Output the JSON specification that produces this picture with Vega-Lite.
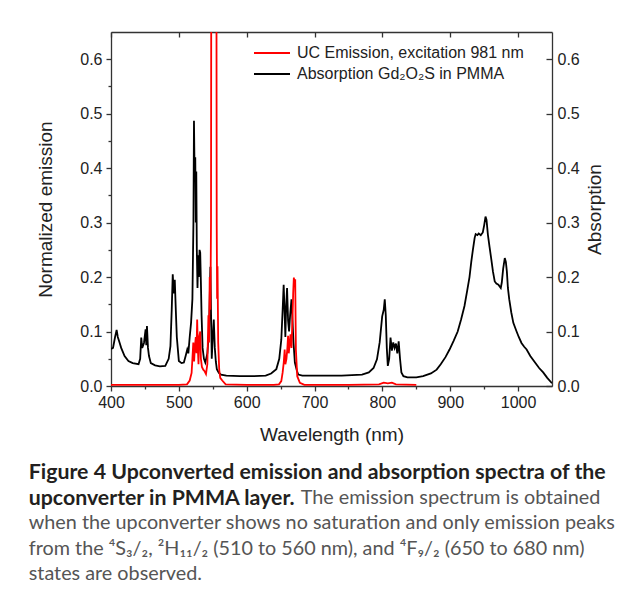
{
  "$schema": "https://vega.github.io/schema/vega-lite/v6.json",
  "width": 441,
  "height": 354,
  "autosize": {"type": "none"},
  "padding": {"left": 111, "top": 32, "right": 70, "bottom": 210},
  "background": "#ffffff",
  "datasets": {
    "absorption": [
      {"w": 400, "v": 0.068}, {"w": 403, "v": 0.07}, {"w": 406, "v": 0.09}, {"w": 408.3, "v": 0.103}, {"w": 410, "v": 0.09},
      {"w": 412, "v": 0.082}, {"w": 415, "v": 0.07}, {"w": 420, "v": 0.055}, {"w": 425.7, "v": 0.046}, {"w": 432, "v": 0.042},
      {"w": 440.6, "v": 0.04}, {"w": 443, "v": 0.05}, {"w": 444.6, "v": 0.089}, {"w": 446, "v": 0.07}, {"w": 448.6, "v": 0.079},
      {"w": 451, "v": 0.104}, {"w": 452, "v": 0.075}, {"w": 453, "v": 0.11}, {"w": 454.5, "v": 0.07}, {"w": 456, "v": 0.055},
      {"w": 458.7, "v": 0.042}, {"w": 465, "v": 0.038}, {"w": 472, "v": 0.036}, {"w": 480, "v": 0.037}, {"w": 485, "v": 0.05},
      {"w": 487.6, "v": 0.073}, {"w": 489.5, "v": 0.14}, {"w": 491, "v": 0.205}, {"w": 492.5, "v": 0.17}, {"w": 494, "v": 0.195},
      {"w": 495.5, "v": 0.14}, {"w": 497, "v": 0.09}, {"w": 500, "v": 0.046}, {"w": 504, "v": 0.042}, {"w": 507.4, "v": 0.043},
      {"w": 510, "v": 0.055}, {"w": 512.4, "v": 0.067}, {"w": 514, "v": 0.06}, {"w": 516, "v": 0.09}, {"w": 518, "v": 0.116},
      {"w": 520, "v": 0.16}, {"w": 521.5, "v": 0.3}, {"w": 522.3, "v": 0.487}, {"w": 523.3, "v": 0.38}, {"w": 524.2, "v": 0.42},
      {"w": 525, "v": 0.3}, {"w": 525.7, "v": 0.394}, {"w": 526.5, "v": 0.25}, {"w": 527.5, "v": 0.18}, {"w": 528.5, "v": 0.24},
      {"w": 529.5, "v": 0.2}, {"w": 530.5, "v": 0.25}, {"w": 531.5, "v": 0.245}, {"w": 532.5, "v": 0.19}, {"w": 533.5, "v": 0.13},
      {"w": 535, "v": 0.07}, {"w": 537, "v": 0.05}, {"w": 539, "v": 0.043}, {"w": 542, "v": 0.06}, {"w": 544.5, "v": 0.1},
      {"w": 546.5, "v": 0.219}, {"w": 547.5, "v": 0.13}, {"w": 548.5, "v": 0.05}, {"w": 550, "v": 0.09}, {"w": 551.5, "v": 0.122},
      {"w": 553, "v": 0.07}, {"w": 554.5, "v": 0.045}, {"w": 556, "v": 0.031}, {"w": 559, "v": 0.024}, {"w": 562, "v": 0.021},
      {"w": 570, "v": 0.019}, {"w": 590, "v": 0.018}, {"w": 610, "v": 0.018}, {"w": 628, "v": 0.019}, {"w": 636, "v": 0.023},
      {"w": 643.7, "v": 0.031}, {"w": 648, "v": 0.05}, {"w": 651, "v": 0.085}, {"w": 653, "v": 0.14}, {"w": 654.5, "v": 0.186},
      {"w": 655.5, "v": 0.15}, {"w": 657, "v": 0.09}, {"w": 658, "v": 0.14}, {"w": 659.5, "v": 0.18}, {"w": 661, "v": 0.12},
      {"w": 662.5, "v": 0.1}, {"w": 664, "v": 0.13}, {"w": 666, "v": 0.159}, {"w": 667.5, "v": 0.12}, {"w": 669, "v": 0.08},
      {"w": 671, "v": 0.043}, {"w": 674, "v": 0.028}, {"w": 676, "v": 0.021}, {"w": 682, "v": 0.019}, {"w": 700, "v": 0.019},
      {"w": 740, "v": 0.019}, {"w": 770, "v": 0.021}, {"w": 780, "v": 0.025}, {"w": 787, "v": 0.033}, {"w": 792, "v": 0.049},
      {"w": 796, "v": 0.08}, {"w": 799.7, "v": 0.128}, {"w": 802, "v": 0.14}, {"w": 803.5, "v": 0.159}, {"w": 805, "v": 0.13},
      {"w": 806.5, "v": 0.07}, {"w": 808, "v": 0.037}, {"w": 810, "v": 0.05}, {"w": 812, "v": 0.089}, {"w": 814, "v": 0.065},
      {"w": 816, "v": 0.08}, {"w": 818, "v": 0.07}, {"w": 820, "v": 0.078}, {"w": 822, "v": 0.06}, {"w": 824, "v": 0.082},
      {"w": 826, "v": 0.05}, {"w": 828, "v": 0.025}, {"w": 831, "v": 0.018}, {"w": 837, "v": 0.016}, {"w": 850, "v": 0.016},
      {"w": 860, "v": 0.018}, {"w": 871.5, "v": 0.023}, {"w": 880, "v": 0.03}, {"w": 886, "v": 0.04}, {"w": 893, "v": 0.053},
      {"w": 899, "v": 0.067}, {"w": 905, "v": 0.083}, {"w": 911, "v": 0.1}, {"w": 916, "v": 0.122}, {"w": 921, "v": 0.147},
      {"w": 925, "v": 0.175}, {"w": 928.4, "v": 0.2}, {"w": 931, "v": 0.228}, {"w": 933.4, "v": 0.25}, {"w": 936, "v": 0.272},
      {"w": 937.5, "v": 0.279}, {"w": 940, "v": 0.277}, {"w": 942, "v": 0.28}, {"w": 945, "v": 0.277}, {"w": 948, "v": 0.282},
      {"w": 950, "v": 0.295}, {"w": 952, "v": 0.311}, {"w": 953.5, "v": 0.305}, {"w": 955.5, "v": 0.278}, {"w": 958, "v": 0.255},
      {"w": 960.6, "v": 0.232}, {"w": 963, "v": 0.21}, {"w": 965.6, "v": 0.192}, {"w": 968, "v": 0.188}, {"w": 971, "v": 0.186},
      {"w": 974.5, "v": 0.18}, {"w": 976, "v": 0.19}, {"w": 978, "v": 0.215}, {"w": 980.4, "v": 0.235}, {"w": 982, "v": 0.228},
      {"w": 983.5, "v": 0.21}, {"w": 985, "v": 0.18}, {"w": 987, "v": 0.159}, {"w": 990, "v": 0.135}, {"w": 993, "v": 0.116},
      {"w": 997.8, "v": 0.1}, {"w": 1001, "v": 0.09}, {"w": 1005, "v": 0.079}, {"w": 1009, "v": 0.072}, {"w": 1012.6, "v": 0.067},
      {"w": 1018, "v": 0.055}, {"w": 1025, "v": 0.043}, {"w": 1031, "v": 0.033}, {"w": 1037, "v": 0.025}, {"w": 1043, "v": 0.015},
      {"w": 1050, "v": 0.005}
    ],
    "emission": [
      {"w": 400, "v": 0.002}, {"w": 450, "v": 0.002}, {"w": 500, "v": 0.002}, {"w": 512, "v": 0.003}, {"w": 516, "v": 0.01},
      {"w": 518.8, "v": 0.024}, {"w": 520, "v": 0.05}, {"w": 521.3, "v": 0.08}, {"w": 522.5, "v": 0.045}, {"w": 523.5, "v": 0.07},
      {"w": 525, "v": 0.09}, {"w": 526, "v": 0.06}, {"w": 527, "v": 0.122}, {"w": 528, "v": 0.07}, {"w": 529, "v": 0.04},
      {"w": 530, "v": 0.09}, {"w": 531.5, "v": 0.1}, {"w": 532.5, "v": 0.05}, {"w": 534, "v": 0.035}, {"w": 536, "v": 0.03},
      {"w": 538, "v": 0.027}, {"w": 540, "v": 0.022}, {"w": 542, "v": 0.04}, {"w": 543.6, "v": 0.13}, {"w": 544.5, "v": 0.08},
      {"w": 545.5, "v": 0.2}, {"w": 546.5, "v": 0.14}, {"w": 547.4, "v": 0.3}, {"w": 548, "v": 1.0}, {"w": 549.5, "v": 1.05},
      {"w": 551.5, "v": 0.9}, {"w": 553.5, "v": 1.1}, {"w": 555.2, "v": 1.0}, {"w": 555.8, "v": 0.3}, {"w": 556.4, "v": 0.16},
      {"w": 557, "v": 0.22}, {"w": 558, "v": 0.08}, {"w": 559.5, "v": 0.03}, {"w": 561, "v": 0.015}, {"w": 564, "v": 0.01},
      {"w": 569, "v": 0.003}, {"w": 600, "v": 0.002}, {"w": 640, "v": 0.002}, {"w": 647.6, "v": 0.003}, {"w": 651, "v": 0.009},
      {"w": 653, "v": 0.025}, {"w": 654.6, "v": 0.043}, {"w": 656, "v": 0.067}, {"w": 657, "v": 0.04}, {"w": 658.6, "v": 0.05},
      {"w": 660, "v": 0.07}, {"w": 661, "v": 0.092}, {"w": 662, "v": 0.06}, {"w": 663.5, "v": 0.08}, {"w": 664.6, "v": 0.095},
      {"w": 666, "v": 0.07}, {"w": 667.6, "v": 0.128}, {"w": 668.5, "v": 0.17}, {"w": 669.5, "v": 0.199}, {"w": 670.5, "v": 0.19},
      {"w": 671.5, "v": 0.196}, {"w": 672.5, "v": 0.067}, {"w": 674.5, "v": 0.018}, {"w": 678.4, "v": 0.006}, {"w": 685, "v": 0.002},
      {"w": 750, "v": 0.002}, {"w": 795, "v": 0.003}, {"w": 802, "v": 0.006}, {"w": 808, "v": 0.005}, {"w": 814, "v": 0.006},
      {"w": 820, "v": 0.003}, {"w": 850, "v": 0.002}
    ]
  },
  "title": {
    "text": ["Figure 4 Upconverted emission and absorption spectra of the", "upconverter in PMMA layer."],
    "subtitle": ["\u200b\u2003\u2003\u2003\u2003\u2003\u2003\u2003\u2003\u2003\u2003\u2003\u2003\u2003\u2003\u2003\u2003\u2003\u00a0\u00a0\u00a0\u00a0The emission spectrum is obtained", "when the upconverter shows no saturation and only emission peaks", "from the ⁴S₃/₂, ²H₁₁/₂ (510 to 560 nm), and ⁴F₉/₂ (650 to 680 nm)", "states are observed."],
    "orient": "bottom",
    "anchor": "start",
    "frame": "bounds",
    "offset": 18,
    "dx": -8,
    "font": "Lato",
    "fontSize": 21.3,
    "fontWeight": "bold",
    "lineHeight": 25.5,
    "color": "#231f20",
    "subtitleFont": "Lato",
    "subtitleFontSize": 19.8,
    "subtitleFontWeight": "normal",
    "subtitleLineHeight": 25.5,
    "subtitleColor": "#555555",
    "subtitlePadding": -21.3
  },
  "layer": [
    {
      "data": {"name": "absorption"},
      "mark": {"type": "line", "color": "#000000", "strokeWidth": 1.8, "clip": true},
      "encoding": {
        "x": {
          "field": "w", "type": "quantitative",
          "scale": {"domain": [400, 1050], "nice": false, "zero": false},
          "axis": {
            "orient": "bottom", "title": "Wavelength (nm)",
            "values": [400, 450, 500, 550, 600, 650, 700, 750, 800, 850, 900, 950, 1000],
            "format": "d",
            "labelExpr": "datum.value % 100 === 0 ? datum.label : ''",
            "tickSize": {"condition": {"test": "datum.value % 100 === 0", "value": 5}, "value": 3},
            "labelPadding": 3, "titlePadding": 15, "labelOverlap": false, "labelFlush": false
          }
        },
        "y": {
          "field": "v", "type": "quantitative",
          "scale": {"domain": [0, 0.65], "nice": false, "zero": true},
          "axis": {
            "orient": "left", "title": "Normalized emission",
            "values": [0, 0.05, 0.1, 0.15, 0.2, 0.25, 0.3, 0.35, 0.4, 0.45, 0.5, 0.55, 0.6],
            "format": ".1f",
            "labelExpr": "abs(datum.value * 10 - round(datum.value * 10)) < 0.001 ? datum.label : ''",
            "tickSize": {"condition": {"test": "abs(datum.value * 10 - round(datum.value * 10)) < 0.001", "value": 5}, "value": 3},
            "labelPadding": 4, "titlePadding": 24, "labelOverlap": false, "labelFlush": false
          }
        },
        "color": {
          "datum": "Absorption Gd₂O₂S in PMMA",
          "type": "nominal",
          "scale": {"domain": ["UC Emission, excitation 981 nm", "Absorption Gd₂O₂S in PMMA"], "range": ["#ff0000", "#000000"]},
          "legend": {
            "orient": "none", "legendX": 151, "legendY": 11, "title": null,
            "symbolType": "M-2,0H2", "symbolSize": 324, "symbolStrokeWidth": 2,
            "labelFont": "Liberation Sans", "labelFontSize": 16, "labelColor": "#222222",
            "labelOffset": 15, "rowPadding": 3, "padding": 0, "labelLimit": 400
          }
        }
      }
    },
    {
      "data": {"name": "emission"},
      "mark": {"type": "line", "color": "#ff0000", "strokeWidth": 1.8, "clip": true},
      "encoding": {
        "x": {
          "field": "w", "type": "quantitative",
          "axis": {
            "orient": "top", "title": null, "labels": false,
            "values": [400, 500, 600, 700, 800, 900, 1000],
            "tickSize": -5
          }
        },
        "y": {
          "field": "v", "type": "quantitative",
          "axis": {
            "orient": "right", "title": "Absorption",
            "values": [0, 0.1, 0.2, 0.3, 0.4, 0.5, 0.6],
            "format": ".1f", "tickSize": -6, "labelPadding": 11,
            "titleAngle": -90, "titleBaseline": "top", "titlePadding": 6,
            "labelOverlap": false, "labelFlush": false
          }
        },
        "color": {"datum": "UC Emission, excitation 981 nm", "type": "nominal"}
      }
    }
  ],
  "resolve": {"axis": {"x": "independent", "y": "independent"}},
  "config": {
    "view": {"stroke": null},
    "axis": {
      "grid": false,
      "domainColor": "#333333", "domainWidth": 1.3,
      "tickColor": "#333333", "tickWidth": 1.3,
      "labelFont": "Liberation Sans", "labelFontSize": 16, "labelColor": "#222222",
      "titleFont": "Liberation Sans", "titleFontSize": 19, "titleFontWeight": "normal", "titleColor": "#222222"
    }
  }
}
